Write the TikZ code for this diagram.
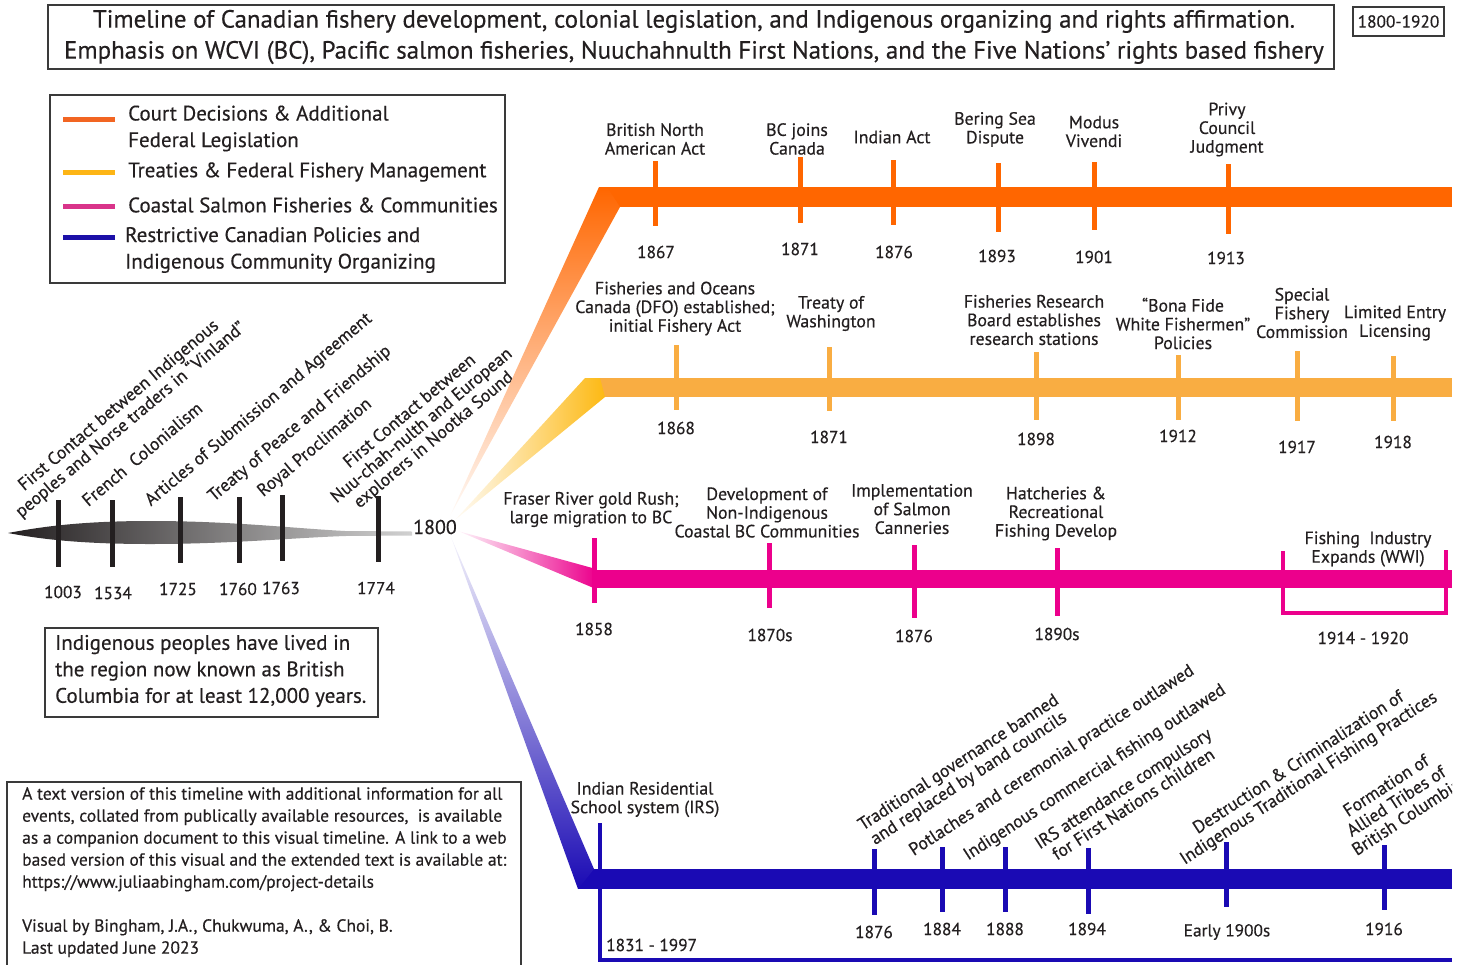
\documentclass[tikz,border=0pt]{standalone}
\usepackage{fontspec}
\setmainfont{PT Sans}[RawFeature={embolden=0.4}]
\definecolor{ink}{HTML}{231F20}
\definecolor{frame}{HTML}{3A3A3A}
\definecolor{corange}{HTML}{FF6600}
\definecolor{camber}{HTML}{F9AD42}
\definecolor{camberdeep}{HTML}{FDB913}
\definecolor{cpink}{HTML}{EC008C}
\definecolor{cblue}{HTML}{1A0AB4}
\definecolor{legorange}{HTML}{F26522}
\definecolor{legyellow}{HTML}{FDB515}
\definecolor{legpink}{HTML}{D9348A}
\definecolor{legblue}{HTML}{1C10A8}
\begin{document}
\begin{tikzpicture}[x=1pt,y=-1pt,
  every node/.style={text=ink},
  txt/.style={inner sep=0pt, align=center, font=\fontsize{17.8}{18.7}\selectfont},
  yr/.style={inner sep=0pt, font=\fontsize{17.3}{18}\selectfont},
  slant/.style={txt, rotate=40},
  slantb/.style={txt, rotate=33},
  tk/.style={line width=5pt},
  frm/.style={draw=frame, line width=1.8pt},
  legline/.style={line width=5pt},
  legtxt/.style={inner sep=0pt, anchor=west, align=left, font=\fontsize{21}{26.5}\selectfont}]
\useasboundingbox (0,0) rectangle (1466,964);
\begin{scope}
\clip (0,0) rectangle (1452,964);

% ---------- heading ----------
\draw[frm] (48,5) rectangle (1334,69);
\node[inner sep=0pt, align=center, font=\fontsize{24.9}{31}\selectfont] (title) at (694,37)
  {Timeline of Canadian fishery development, colonial legislation, and Indigenous organizing and rights affirmation.\\
   Emphasis on WCVI (BC), Pacific salmon fisheries, Nuuchahnulth First Nations, and the Five Nations’ rights based fishery};
\draw[frm] (1353,7) rectangle (1444,36);
\node[yr] (range) at (1398.5,21.5) {1800-1920};

% ---------- legend ----------
\draw[frm] (50,95) rectangle (505,283);
\draw[legline, legorange] (63,119) -- (115,119);
\draw[legline, legyellow] (63,172) -- (115,172);
\draw[legline, legpink] (63,206) -- (115,206);
\draw[legline, legblue] (63,237) -- (115,237);
\node[legtxt] (legA) at (128,128.5) {Court Decisions \& Additional\\Federal Legislation};
\node[legtxt] (legB) at (128,172) {Treaties \& Federal Fishery Management};
\node[legtxt] (legC) at (128,205) {Coastal Salmon Fisheries \& Communities};
\node[legtxt] (legD) at (125,250) {Restrictive Canadian Policies and\\Indigenous Community Organizing};

% ---------- early timeline to 1800 ----------
\shade[left color=ink, middle color=ink!95, right color=black!18]
  (8,533) .. controls (40,527) and (80,521) .. (150,521)
  .. controls (230,521) and (290,528) .. (345,531) -- (412,531.5) -- (412,535.5) -- (345,536)
  .. controls (290,538) and (230,544) .. (150,544)
  .. controls (80,544) and (40,539) .. (8,533) -- cycle;
\foreach \x/\a/\b in {58/500/567, 112/500/567, 180/497/563, 239/497/563, 282/495/561, 378/496/562}
  \draw[tk, ink] (\x,\a) -- (\x,\b);
\node[yr] (y1003) at (63,592) {1003};
\node[yr] (y1534) at (113,593) {1534};
\node[yr] (y1725) at (178,589) {1725};
\node[yr] (y1760) at (238,589) {1760};
\node[yr] (y1763) at (281,588) {1763};
\node[yr] (y1774) at (376,588) {1774};
\node[slant] (norse) at (125,413) {First Contact between Indigenous\\peoples and Norse traders in “Vinland”};
\node[slant] (french) at (142,454) {French\ \ Colonialism};
\node[slant] (artic) at (259,410) {Articles of Submission and Agreement};
\node[slant] (peace) at (300,424) {Treaty of Peace and Friendship};
\node[slant] (royal) at (315,448) {Royal Proclimation};
\node[slant] (nootka) at (422,426) {First Contact between\\Nuu-chah-nulth and European\\explorers in Nootka Sound};
\node[inner sep=0pt, font=\fontsize{20}{22}\selectfont] (y1800) at (435,527) {1800};

% ---------- court decisions & federal legislation ----------
\fill[corange] (599,187) rectangle (1452,207);
\shade[top color=corange, middle color=corange!60, bottom color=corange!2] (450,516) -- (599,187) -- (607,187) -- (620,207) -- cycle;
\foreach \x/\a/\b in {655/161/226, 800/157/223, 893/160/225, 998/163/232, 1094/162/230, 1228/164/234}
  \draw[tk, corange] (\x,\a) -- (\x,\b);
\node[txt] (bna) at (655,139) {British North\\American Act};
\node[txt] (bcj) at (797,139) {BC joins\\Canada};
\node[txt] (ia) at (892,137) {Indian Act};
\node[txt] (bsd) at (995,129.5) {Bering Sea\\Dispute};
\node[txt] (mv) at (1094,131.5) {Modus\\Vivendi};
\node[txt] (pcj) at (1227,129.5) {Privy\\Council\\Judgment};
\node[yr] (o1867) at (656,252) {1867};
\node[yr] (o1871) at (800,249) {1871};
\node[yr] (o1876) at (894,252) {1876};
\node[yr] (o1893) at (997,256) {1893};
\node[yr] (o1901) at (1094,257) {1901};
\node[yr] (o1913) at (1226,258) {1913};

% ---------- treaties & federal fishery management ----------
\fill[camber] (598,378) rectangle (1452,397);
\shade[left color=camber!4, right color=camberdeep] (455,520) -- (585,378) -- (600,378) -- (605,397) -- cycle;
\foreach \x/\a/\b in {676/345/410, 829/347/411, 1036/352/420, 1178/355/420, 1297/351/421, 1393/356/421}
  \draw[tk, camber] (\x,\a) -- (\x,\b);
\node[txt] (dfo) at (675,308.5) {Fisheries and Oceans\\Canada (DFO) established;\\initial Fishery Act};
\node[txt] (tow) at (831,313.5) {Treaty of\\Washington};
\node[txt] (frb) at (1034,320) {Fisheries Research\\Board establishes\\research stations};
\node[txt] (bfw) at (1183,323.5) {“Bona Fide\\White Fishermen”\\Policies};
\node[txt] (sfc) at (1302,313) {Special\\Fishery\\Commission};
\node[txt] (lel) at (1395,323) {Limited Entry\\Licensing};
\node[yr] (a1868) at (676,428) {1868};
\node[yr] (a1871) at (829,437) {1871};
\node[yr] (a1898) at (1036,439) {1898};
\node[yr] (a1912) at (1178,436) {1912};
\node[yr] (a1917) at (1297,447) {1917};
\node[yr] (a1918) at (1393,442) {1918};

% ---------- coastal salmon fisheries & communities ----------
\fill[cpink] (594,570) rectangle (1452,588);
\shade[left color=cpink!3, right color=cpink] (458,531) -- (596,569) -- (596,589) -- cycle;
\foreach \x/\a/\b in {594/538/603, 769/543/608, 914/545/618, 1057/548/616}
  \draw[tk, cpink] (\x,\a) -- (\x,\b);
\draw[cpink, line width=4pt] (1283,551) -- (1283,613) -- (1446,613) -- (1446,550);
\node[txt] (frg) at (591,509.5) {Fraser River gold Rush;\\large migration to BC};
\node[txt] (dni) at (767,512.5) {Development of\\Non-Indigenous\\Coastal BC Communities};
\node[txt] (isc) at (912,509) {Implementation\\of Salmon\\Canneries};
\node[txt] (hrf) at (1056,513.5) {Hatcheries \&\\Recreational\\Fishing Develop};
\node[txt] (fie) at (1368,549) {Fishing\ \ Industry\\Expands (WWI)};
\node[yr] (p1858) at (594,629) {1858};
\node[yr] (p1870) at (770,635) {1870s};
\node[yr] (p1876) at (914,636) {1876};
\node[yr] (p1890) at (1057,634) {1890s};
\node[yr] (p1914) at (1363,638) {1914 - 1920};

% ---------- restrictive policies & community organizing ----------
\fill[cblue] (578,869) rectangle (1452,889);
\shade[top color=cblue!4, bottom color=cblue] (451,537) -- (594,869) -- (578,889) -- cycle;
\draw[cblue, line width=4pt] (600,823) -- (600,960) -- (1452,960);
\foreach \x/\a/\b in {874/849/915, 942/847/912, 1005/847/912, 1088/848/914, 1226/842/907, 1384/845/910}
  \draw[tk, cblue] (\x,\a) -- (\x,\b);
\node[txt] (irs) at (645,799.5) {Indian Residential\\School system (IRS)};
\node[yr, anchor=west] (b1831) at (606,945) {1831 - 1997};
\node[slantb] (gov) at (964,771) {Traditional governance banned\\and replaced by band councils};
\node[slantb] (potl) at (1052,761) {Potlaches and ceremonial practice outlawed};
\node[slantb] (comm) at (1095,773) {Indigenous commercial fishing outlawed};
\node[slantb] (irsc) at (1128,796) {IRS attendance compulsory\\for First Nations children};
\node[slantb] (destr) at (1304,771) {Destruction \& Criminalization of\\Indigenous Traditional Fishing Practices};
\node[slantb] (allied) at (1396,801) {Formation of\\Allied Tribes of\\British Columbia};
\node[yr] (b1876) at (874,932) {1876};
\node[yr] (b1884) at (942,929) {1884};
\node[yr] (b1888) at (1005,929) {1888};
\node[yr] (b1894) at (1087,929) {1894};
\node[yr] (b1900) at (1227,932) {Early 1900s};
\node[yr] (b1916) at (1384,929) {1916};

% ---------- notes ----------
\draw[frm] (45,628) rectangle (378,717);
\node[inner sep=0pt, anchor=west, align=left, font=\fontsize{21}{26.5}\selectfont] (note)
  at (55,671) {Indigenous peoples have lived in\\the region now known as British\\Columbia for at least 12,000 years.};
\draw[frm] (7,970) -- (7,782) -- (521,782) -- (521,970);
\node[inner sep=0pt, anchor=north west, align=left, font=\fontsize{17.5}{22}\selectfont] (about)
  at (22,787) {A text version of this timeline with additional information for all\\
  events, collated from publically available resources,\ \ is available\\
  as a companion document to this visual timeline. A link to a web\\
  based version of this visual and the extended text is available at:\\
  https://www.juliaabingham.com/project-details\\[22pt]
  Visual by Bingham, J.A., Chukwuma, A., \& Choi, B.\\
  Last updated June 2023};
\end{scope}
\end{tikzpicture}
\end{document}
